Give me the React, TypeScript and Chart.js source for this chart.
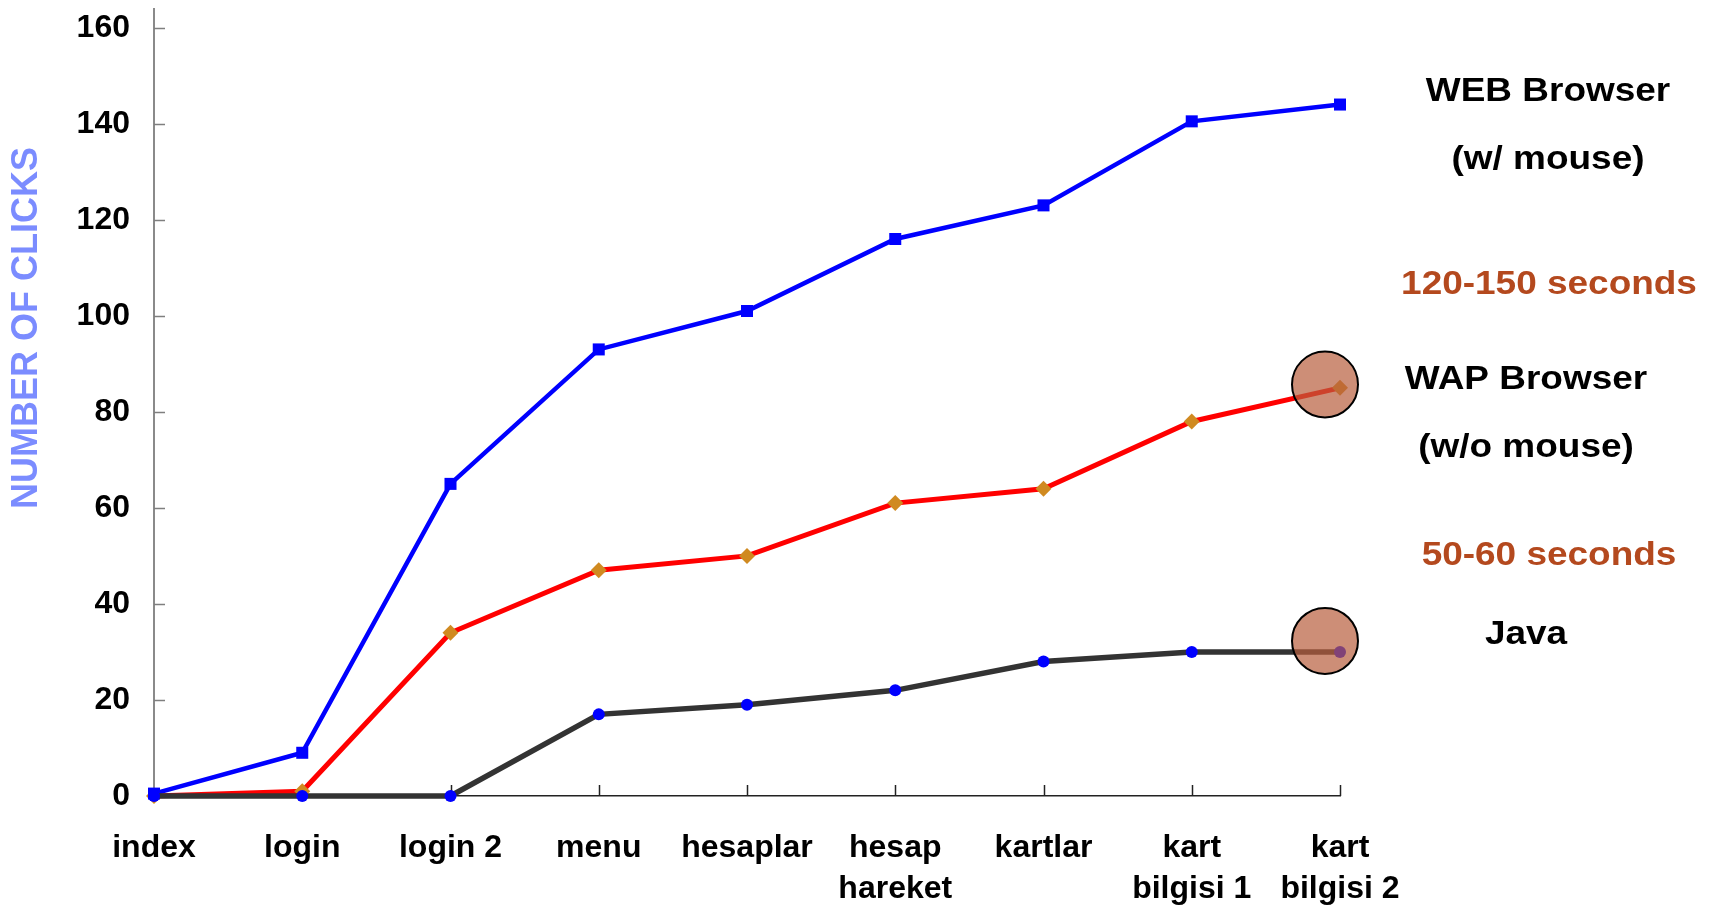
import React, { useEffect, useRef } from 'react';
import { Chart, registerables } from 'chart.js';

Chart.register(...registerables);

// ---- data ----
const categories: string[][] = [
  ['index'], ['login'], ['login 2'], ['menu'], ['hesaplar'],
  ['hesap', 'hareket'], ['kartlar'], ['kart', 'bilgisi 1'], ['kart', 'bilgisi 2'],
];
const webBrowser = [0.5, 9, 65, 93, 101, 116, 123, 140.5, 144];
const wapBrowser = [0, 1, 34, 47, 50, 61, 64, 78, 85];
const java = [0, 0, 0, 17, 19, 22, 28, 30, 30];
const yTickValues = [0, 20, 40, 60, 80, 100, 120, 140, 160];
const yAxisTitle = 'NUMBER OF CLICKS';
const noteTexts = ['WEB Browser', '(w/ mouse)', '120-150 seconds', 'WAP Browser', '(w/o mouse)', '50-60 seconds', 'Java'];
const noteKinds = ['label', 'label', 'time', 'label', 'label', 'time', 'label'];
// circled end points: [category index, value]
const circledPoints: [number, number][] = [[8, 85.7], [8, 32.3]];

const FONT = '"Liberation Sans", Arial, "DejaVu Sans", sans-serif';

const decorPlugin = {
  id: 'decor',
  beforeDatasetsDraw(chart: any) {
    const { ctx, chartArea, scales } = chart;
    const x = scales.x;
    const y = scales.y;
    ctx.save();
    ctx.strokeStyle = '#7f7f7f';
    ctx.lineWidth = 1.5;
    yTickValues.forEach((v) => {
      const py = Math.round(y.getPixelForValue(v)) + 0.5;
      ctx.beginPath();
      ctx.moveTo(chartArea.left, py);
      ctx.lineTo(chartArea.left + 11, py);
      ctx.stroke();
    });
    ctx.strokeStyle = '#222';
    categories.forEach((_, i) => {
      if (i === 0) return;
      const px = Math.round(x.getPixelForValue(i)) + 0.5;
      ctx.beginPath();
      ctx.moveTo(px, chartArea.bottom);
      ctx.lineTo(px, chartArea.bottom - 11);
      ctx.stroke();
    });
    ctx.restore();
  },
  afterDraw(chart: any) {
    const { ctx, scales } = chart;
    const x = scales.x;
    const y = scales.y;
    ctx.save();
    circledPoints.forEach(([i, v]) => {
      const cx = x.getPixelForValue(i) - 15;
      const cy = y.getPixelForValue(v);
      ctx.beginPath();
      ctx.arc(cx, cy, 33, 0, Math.PI * 2);
      ctx.fillStyle = 'rgba(184, 94, 61, 0.7)';
      ctx.fill();
      ctx.lineWidth = 2;
      ctx.strokeStyle = '#000';
      ctx.stroke();
    });
    ctx.save();
    ctx.translate(27, 328);
    ctx.rotate(-Math.PI / 2);
    ctx.font = `bold 36px ${FONT}`;
    ctx.fillStyle = '#7b8cff';
    ctx.textAlign = 'center';
    ctx.textBaseline = 'middle';
    ctx.fillText(yAxisTitle, 0, 0);
    ctx.restore();
    const pos: [number, number][] = [
      [1548, 92], [1548, 160], [1549, 285], [1526, 380], [1526, 448], [1549, 556], [1526, 635],
    ];
    noteTexts.forEach((t, k) => {
      ctx.save();
      ctx.translate(pos[k][0], pos[k][1]);
      ctx.scale(1.12, 1);
      ctx.font = `bold 33px ${FONT}`;
      ctx.fillStyle = noteKinds[k] === 'time' ? '#b4491e' : '#000';
      ctx.textAlign = 'center';
      ctx.textBaseline = 'middle';
      ctx.fillText(t, 0, 0);
      ctx.restore();
    });
    ctx.restore();
  },
};

export default function App() {
  const ref = useRef<HTMLCanvasElement | null>(null);
  useEffect(() => {
    if (!ref.current) return;
    const chart = new Chart(ref.current, {
      type: 'line',
      data: {
        labels: categories,
        datasets: [
          {
            label: 'WEB Browser',
            data: webBrowser,
            borderColor: '#0000ff',
            backgroundColor: '#0000ff',
            borderWidth: 4.5,
            pointStyle: 'rect',
            pointRadius: 8.5,
            pointBorderWidth: 0,
            pointBackgroundColor: '#0000ff',
            tension: 0,
            clip: false,
            order: 1,
          },
          {
            label: 'WAP Browser',
            data: wapBrowser,
            borderColor: '#ff0000',
            backgroundColor: '#ff0000',
            borderWidth: 5,
            pointStyle: 'rectRot',
            pointRadius: 8,
            pointBorderWidth: 0,
            pointBackgroundColor: '#d08a20',
            tension: 0,
            clip: false,
            order: 2,
          },
          {
            label: 'Java',
            data: java,
            borderColor: '#333333',
            backgroundColor: '#333333',
            borderWidth: 5.5,
            pointStyle: 'circle',
            pointRadius: 6,
            pointBorderWidth: 0,
            pointBackgroundColor: '#0000ff',
            tension: 0,
            clip: false,
            order: 0,
          },
        ],
      },
      options: {
        responsive: false,
        animation: false,
        layout: { padding: { top: 0, right: 375, left: 0, bottom: 0 } },
        plugins: {
          legend: { display: false },
          tooltip: { enabled: false },
          title: { display: false },
        },
        scales: {
          x: {
            type: 'category',
            offset: false,
            grid: { display: false, drawTicks: false },
            border: { display: true, color: '#222', width: 1.5 },
            ticks: {
              color: '#000',
              font: { family: FONT, size: 32, weight: 'bold', lineHeight: 1.3 },
              padding: 31,
              maxRotation: 0,
              autoSkip: false,
            },
            afterFit: (s: any) => { s.height = 112; s.paddingLeft = 0; s.paddingRight = 0; },
          },
          y: {
            min: 0,
            max: 164,
            grid: { display: false, drawTicks: false },
            border: { display: true, color: '#8a8a8a', width: 2 },
            ticks: {
              stepSize: 20,
              color: '#000',
              font: { family: FONT, size: 32, weight: 'bold' },
              padding: 24,
            },
            afterBuildTicks: (s: any) => {
              s.ticks = yTickValues.map((v) => ({ value: v }));
            },
            afterFit: (s: any) => { s.width = 154; s.paddingTop = 0; s.paddingBottom = 0; },
          },
        },
      } as any,
      plugins: [decorPlugin],
    });
    return () => chart.destroy();
  }, []);
  return (
    <div style={{ position: 'fixed', left: 0, top: 0, background: '#fff' }}>
      <canvas ref={ref} width={1715} height={908} style={{ display: 'block', width: 1715, height: 908 }} />
    </div>
  );
}
